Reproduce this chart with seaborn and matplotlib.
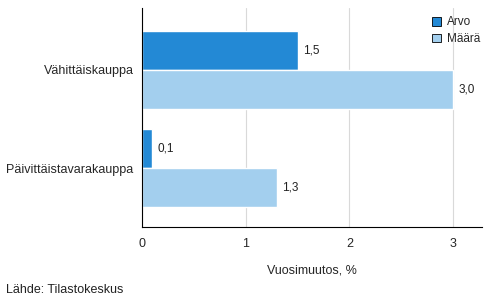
import matplotlib
matplotlib.use("Agg")
import matplotlib.pyplot as plt
import seaborn as sns
import pandas as pd

categories = ["Vähittäiskauppa", "Päivittäistavarakauppa"]
series = ["Arvo", "Määrä"]
arvo = [1.5, 0.1]
maara = [3.0, 1.3]
xticks = [0, 1, 2, 3]
colors = ["#2389d5", "#a3cfee"]

df = pd.DataFrame({
    "cat": categories * 2,
    "series": [series[0]] * 2 + [series[1]] * 2,
    "val": arvo + maara,
})

sns.set_style("white")
plt.rcParams["font.family"] = ["Liberation Sans", "DejaVu Sans"]
plt.rcParams["font.size"] = 9

fig = plt.figure(figsize=(4.93, 3.04), dpi=100)
ax = fig.add_axes([0.288, 0.253, 0.690, 0.721])
sns.barplot(data=df, y="cat", x="val", hue="series", orient="h",
            palette=colors, width=0.8, ax=ax, saturation=1, gap=0)

for cont in ax.containers:
    labels = [f"{v:.1f}".replace(".", ",") for v in cont.datavalues]
    ax.bar_label(cont, labels=labels, padding=4, fontsize=8.5, color="#222222")

ax.set_xlim(0, 3.28)
ax.set_ylim(1.6, -0.63)
ax.set_xticks(xticks)
ax.set_xticklabels([str(t) for t in xticks])
ax.xaxis.grid(True, color="#d9d9d9", linewidth=0.8)
ax.set_axisbelow(True)
for s in ["top", "right"]:
    ax.spines[s].set_visible(False)
for s in ["left", "bottom"]:
    ax.spines[s].set_color("black")
    ax.spines[s].set_linewidth(0.8)
ax.tick_params(axis="x", length=0, pad=8, labelsize=9)
ax.tick_params(axis="y", length=0, pad=6, labelsize=9)
ax.set_ylabel("")
ax.set_xlabel("Vuosimuutos, %", fontsize=9, labelpad=10)

leg = ax.legend(loc="upper right", frameon=False, fontsize=8.5, handlelength=0.75,
                handleheight=0.75, handletextpad=0.5, labelspacing=0.4,
                bbox_to_anchor=(1.025, 1.01))
for h in leg.legend_handles:
    h.set_edgecolor("black")
    h.set_linewidth(0.6)

fig.text(0.012, 0.035, "Lähde: Tilastokeskus", fontsize=9, color="#222222")

fig.savefig("out.png", dpi=100)
